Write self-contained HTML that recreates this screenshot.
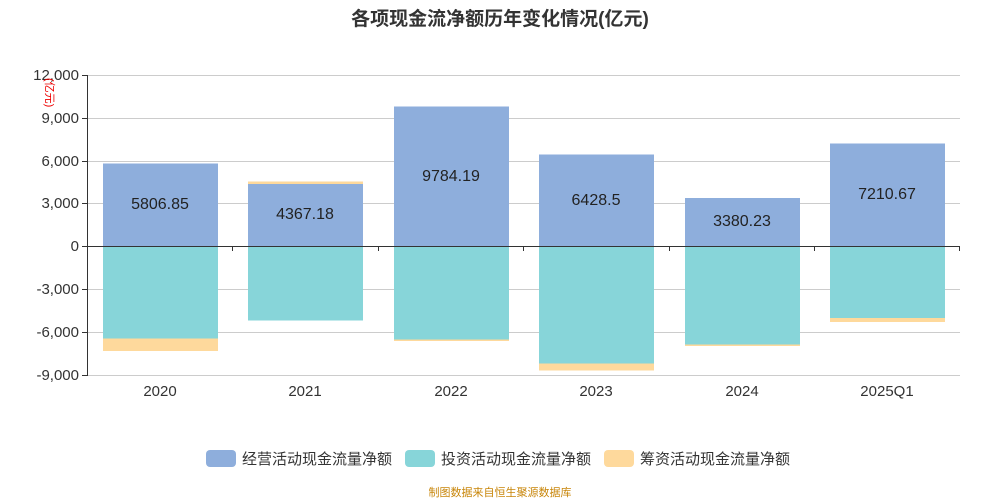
<!DOCTYPE html>
<html><head><meta charset="utf-8"><style>
body{margin:0;background:#fff;}
svg{display:block;font-family:"Liberation Sans","Noto Sans CJK SC",sans-serif;}
</style></head><body>
<svg width="1000" height="500" xmlns="http://www.w3.org/2000/svg">
<text x="500" y="25" text-anchor="middle" font-size="19" font-weight="bold" fill="#333">各项现金流净额历年变化情况(亿元)</text>
<g stroke="#ccc" stroke-width="1">
<line x1="87" y1="75.5" x2="960" y2="75.5"/>
<line x1="87" y1="118.5" x2="960" y2="118.5"/>
<line x1="87" y1="161.5" x2="960" y2="161.5"/>
<line x1="87" y1="203.5" x2="960" y2="203.5"/>
<line x1="87" y1="289.5" x2="960" y2="289.5"/>
<line x1="87" y1="332.5" x2="960" y2="332.5"/>
<line x1="87" y1="375.5" x2="960" y2="375.5"/>
</g>
<g font-size="15" fill="#333" text-anchor="end">
<text x="79" y="80">12,000</text>
<text x="79" y="123">9,000</text>
<text x="79" y="166">6,000</text>
<text x="79" y="208">3,000</text>
<text x="79" y="251">0</text>
<text x="79" y="294">-3,000</text>
<text x="79" y="337">-6,000</text>
<text x="79" y="380">-9,000</text>
</g>
<text transform="translate(46,78) rotate(90)" font-size="11" fill="#e00">(亿元)</text>
<!-- bars -->
<g>
<rect x="103" y="163.5" width="115" height="83" fill="#8eaedc"/>
<rect x="103" y="246.5" width="115" height="92" fill="#87d5d9"/>
<rect x="103" y="338.5" width="115" height="12.5" fill="#fed99c"/>
<rect x="248" y="184" width="115" height="62.5" fill="#8eaedc"/>
<rect x="248" y="181.5" width="115" height="2.5" fill="#fed99c"/>
<rect x="248" y="246.5" width="115" height="74" fill="#87d5d9"/>
<rect x="394" y="106.5" width="115" height="140" fill="#8eaedc"/>
<rect x="394" y="246.5" width="115" height="93" fill="#87d5d9"/>
<rect x="394" y="339.5" width="115" height="1.5" fill="#fed99c"/>
<rect x="539" y="154.5" width="115" height="92" fill="#8eaedc"/>
<rect x="539" y="246.5" width="115" height="117" fill="#87d5d9"/>
<rect x="539" y="363.5" width="115" height="7" fill="#fed99c"/>
<rect x="685" y="198" width="115" height="48.5" fill="#8eaedc"/>
<rect x="685" y="246.5" width="115" height="98" fill="#87d5d9"/>
<rect x="685" y="344.5" width="115" height="1.5" fill="#fed99c"/>
<rect x="830" y="143.5" width="115" height="103" fill="#8eaedc"/>
<rect x="830" y="246.5" width="115" height="71.5" fill="#87d5d9"/>
<rect x="830" y="318" width="115" height="4" fill="#fed99c"/>
</g>
<g font-size="16" fill="#222" text-anchor="middle">
<text x="160" y="209">5806.85</text>
<text x="305" y="219">4367.18</text>
<text x="451" y="181">9784.19</text>
<text x="596" y="205">6428.5</text>
<text x="742" y="226">3380.23</text>
<text x="887" y="199">7210.67</text>
</g>
<g stroke="#333" stroke-width="1">
<line x1="87.5" y1="75" x2="87.5" y2="376"/>
<line x1="87" y1="246.5" x2="960" y2="246.5"/>
<line x1="82" y1="75.5" x2="87" y2="75.5"/>
<line x1="82" y1="118.5" x2="87" y2="118.5"/>
<line x1="82" y1="161.5" x2="87" y2="161.5"/>
<line x1="82" y1="203.5" x2="87" y2="203.5"/>
<line x1="82" y1="246.5" x2="87" y2="246.5"/>
<line x1="82" y1="289.5" x2="87" y2="289.5"/>
<line x1="82" y1="332.5" x2="87" y2="332.5"/>
<line x1="82" y1="375.5" x2="87" y2="375.5"/>
<line x1="232.5" y1="246" x2="232.5" y2="251"/>
<line x1="378.5" y1="246" x2="378.5" y2="251"/>
<line x1="523.5" y1="246" x2="523.5" y2="251"/>
<line x1="669.5" y1="246" x2="669.5" y2="251"/>
<line x1="814.5" y1="246" x2="814.5" y2="251"/>
<line x1="959.5" y1="246" x2="959.5" y2="251"/>
</g>
<g font-size="15" fill="#333" text-anchor="middle">
<text x="160" y="396">2020</text>
<text x="305" y="396">2021</text>
<text x="451" y="396">2022</text>
<text x="596" y="396">2023</text>
<text x="742" y="396">2024</text>
<text x="887" y="396">2025Q1</text>
</g>
<g font-size="15" fill="#333">
<rect x="206" y="450" width="30" height="17" rx="4" fill="#8eaedc"/>
<text x="242" y="464">经营活动现金流量净额</text>
<rect x="405" y="450" width="30" height="17" rx="4" fill="#87d5d9"/>
<text x="441" y="464">投资活动现金流量净额</text>
<rect x="604" y="450" width="30" height="17" rx="4" fill="#fed99c"/>
<text x="640" y="464">筹资活动现金流量净额</text>
</g>
<text x="500" y="496" text-anchor="middle" font-size="11" fill="#c8860a">制图数据来自恒生聚源数据库</text>
</svg>
</body></html>
